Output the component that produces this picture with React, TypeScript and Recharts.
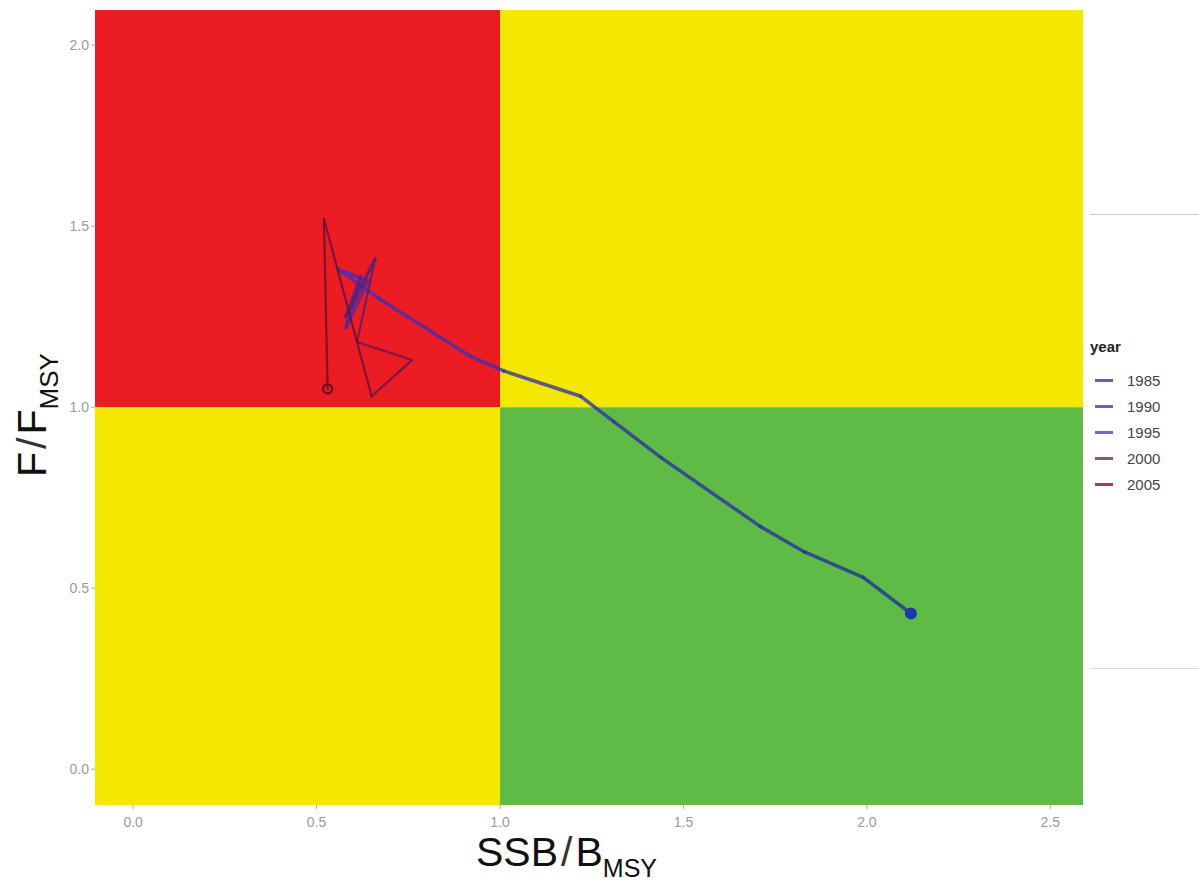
import { ComposedChart, Line, Scatter, XAxis, YAxis, ReferenceArea } from "recharts";

// SSB/Bmsy and F/Fmsy by year
const years = [1985, 1986, 1987, 1988, 1989, 1990, 1991, 1992, 1993, 1994, 1995, 1996, 1997, 1998, 1999, 2000, 2001, 2002, 2003, 2004, 2005];
const ssbRatio = [2.12, 1.99, 1.83, 1.71, 1.44, 1.31, 1.22, 1.01, 0.92, 0.67, 0.56, 0.64, 0.58, 0.62, 0.58, 0.66, 0.61, 0.76, 0.65, 0.52, 0.53];
const fRatio = [0.43, 0.53, 0.6, 0.67, 0.86, 0.96, 1.03, 1.1, 1.14, 1.3, 1.38, 1.35, 1.22, 1.36, 1.25, 1.41, 1.18, 1.13, 1.03, 1.52, 1.05];

const xTicks = [0, 0.5, 1, 1.5, 2, 2.5];
const yTicks = [0, 0.5, 1, 1.5, 2];
const legendYears = [1985, 1990, 1995, 2000, 2005];

const X_MIN = -0.104;
const X_MAX = 2.589;
const Y_MIN = -0.099;
const Y_MAX = 2.097;

const RED = "#ec1c24";
const YELLOW = "#f5e800";
const GREEN = "#60ba46";

// colour ramp for years: blue -> purple -> dark red
const LOW = [30, 53, 150];
const MID = [74, 48, 184];
const HIGH = [106, 10, 26];

function yearColor(year: number) {
  const t = (year - years[0]) / (years[years.length - 1] - years[0]);
  const a = t < 0.5 ? LOW : MID;
  const b = t < 0.5 ? MID : HIGH;
  const u = t < 0.5 ? t * 2 : (t - 0.5) * 2;
  const c = a.map((v, i) => Math.round(v + (b[i] - v) * u));
  return `rgb(${c[0]},${c[1]},${c[2]})`;
}

const points = years.map((year, i) => ({ year, x: ssbRatio[i], y: fRatio[i] }));
const segments = points.slice(0, -1).map((p, i) => [p, points[i + 1]]);

const FONT = "Liberation Sans, Arial, sans-serif";
const tickStyle = { fontSize: 14, fill: "#9a9a9a", fontFamily: FONT };

function XTitle() {
  return (
    <text x={476} y={866} fontSize={41} fill="#111" fontFamily={FONT}>
      <tspan>SSB</tspan>
      <tspan fontWeight={300} dx={3} fill="#333">/</tspan>
      <tspan dx={3}>B</tspan>
      <tspan fontSize={25} dy={11}>MSY</tspan>
    </text>
  );
}

function YTitle() {
  const cy = 415;
  return (
    <text x={46} y={cy} transform={`rotate(-90, 46, ${cy})`} textAnchor="middle" fontSize={41} fill="#111" fontFamily={FONT}>
      <tspan>F</tspan>
      <tspan dx={3} fill="#333">/</tspan>
      <tspan dx={3}>F</tspan>
      <tspan fontSize={26} dy={12}>MSY</tspan>
    </text>
  );
}

export default function App() {
  const first = points[0];
  const last = points[points.length - 1];
  return (
    <div style={{ position: "absolute", left: 0, top: 0, width: 1199, height: 883, background: "#fff" }}>
      <ComposedChart width={1199} height={883} margin={{ top: 10, right: 116, bottom: 48, left: 50 }}>
        <XAxis
          type="number"
          dataKey="x"
          domain={[X_MIN, X_MAX]}
          ticks={xTicks}
          allowDataOverflow
          axisLine={false}
          tickLine={{ stroke: "#aaa" }}
          tickSize={4}
          tickMargin={8}
          tick={tickStyle}
          tickFormatter={(v: number) => v.toFixed(1)}
          height={30}
          label={<XTitle />}
        />
        <YAxis
          type="number"
          dataKey="y"
          domain={[Y_MIN, Y_MAX]}
          ticks={yTicks}
          allowDataOverflow
          axisLine={false}
          tickLine={{ stroke: "#aaa" }}
          tickSize={4}
          tickMargin={2}
          tick={tickStyle}
          tickFormatter={(v: number) => v.toFixed(1)}
          width={45}
          label={<YTitle />}
        />
        <ReferenceArea x1={X_MIN} x2={1} y1={1} y2={Y_MAX} fill={RED} fillOpacity={1} stroke="none" />
        <ReferenceArea x1={1} x2={X_MAX} y1={1} y2={Y_MAX} fill={YELLOW} fillOpacity={1} stroke="none" />
        <ReferenceArea x1={X_MIN} x2={1} y1={Y_MIN} y2={1} fill={YELLOW} fillOpacity={1} stroke="none" />
        <ReferenceArea x1={1} x2={X_MAX} y1={Y_MIN} y2={1} fill={GREEN} fillOpacity={1} stroke="none" />
        {segments.map((seg) => (
          <Line
            key={seg[0].year}
            data={seg}
            dataKey="y"
            type="linear"
            stroke={yearColor(seg[0].year)}
            strokeOpacity={0.8}
            strokeWidth={seg[0].year < 2000 ? 3.5 : 2.2}
            strokeLinecap="round"
            dot={false}
            activeDot={false}
            isAnimationActive={false}
          />
        ))}
        <Scatter
          data={[first]}
          dataKey="y"
          isAnimationActive={false}
          shape={(p: any) => <circle cx={p.cx} cy={p.cy} r={6} fill="#1e3aa8" />}
        />
        <Scatter
          data={[last]}
          dataKey="y"
          isAnimationActive={false}
          shape={(p: any) => <circle cx={p.cx} cy={p.cy} r={4.5} fill="none" stroke="#7a0c1c" strokeWidth={2.5} />}
        />
      </ComposedChart>
      <div style={{ position: "absolute", left: 1090, top: 214, width: 109, height: 1, background: "#c8c8c8" }} />
      <div style={{ position: "absolute", left: 1090, top: 668, width: 109, height: 1, background: "#d8d8d8" }} />
      <div style={{ position: "absolute", left: 1090, top: 338, fontFamily: FONT }}>
        <div style={{ fontSize: 15, fontWeight: 700, color: "#222", marginBottom: 13 }}>year</div>
        {legendYears.map((y) => (
          <div key={y} style={{ display: "flex", alignItems: "center", height: 25.8 }}>
            <div style={{ width: 18, height: 3, background: yearColor(y), opacity: 0.75, marginLeft: 5, marginRight: 14 }} />
            <span style={{ fontSize: 15, color: "#444" }}>{y}</span>
          </div>
        ))}
      </div>
    </div>
  );
}
